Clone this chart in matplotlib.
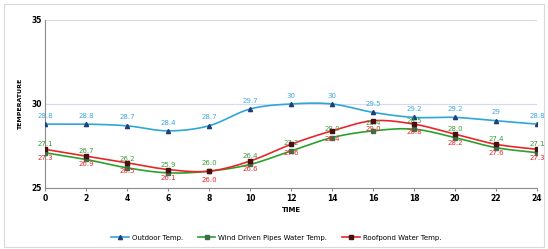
import numpy as np
import matplotlib
matplotlib.use("Agg")
import matplotlib.pyplot as plt
from matplotlib.patches import Rectangle

hours = [0, 2, 4, 6, 8, 10, 12, 14, 16, 18, 20, 22, 24]
outdoor = [28.8, 28.8, 28.7, 28.4, 28.7, 29.7, 30, 30, 29.5, 29.2, 29.2, 29, 28.8]
wind_pipes = [27.1, 26.7, 26.2, 25.9, 26.0, 26.4, 27.2, 28.0, 28.4, 28.5, 28.0, 27.4, 27.1]
roofpond = [27.3, 26.9, 26.5, 26.1, 26.0, 26.6, 27.6, 28.4, 29.0, 28.8, 28.2, 27.6, 27.3]
names = ["Outdoor Temp.", "Wind Driven Pipes Water Temp.", "Roofpond Water Temp."]


def smooth(x, y, n=20):
    """Catmull-Rom curve through the points, close to Excel's smoothed line."""
    x = np.asarray(x, float); y = np.asarray(y, float)
    px = np.concatenate([[2 * x[0] - x[1]], x, [2 * x[-1] - x[-2]]])
    py = np.concatenate([[2 * y[0] - y[1]], y, [2 * y[-1] - y[-2]]])
    t = np.linspace(0, 1, n, endpoint=False)[:, None]
    xs, ys = [], []
    for i in range(1, len(px) - 2):
        for p, out in ((px, xs), (py, ys)):
            p0, p1, p2, p3 = p[i - 1], p[i], p[i + 1], p[i + 2]
            c = 0.5 * ((2 * p1) + (-p0 + p2) * t + (2 * p0 - 5 * p1 + 4 * p2 - p3) * t ** 2
                       + (-p0 + 3 * p1 - 3 * p2 + p3) * t ** 3)
            out.append(c.ravel())
    return np.concatenate(xs + [[x[-1]]]), np.concatenate(ys + [[y[-1]]])


fig = plt.figure(figsize=(5.48, 2.49), dpi=100)
fig.patches.append(Rectangle((0.008, 0.01), 0.984, 0.975, transform=fig.transFigure,
                             fill=False, ec="#d9d9d9", lw=0.8))
ax = fig.add_axes([0.082, 0.245, 0.898, 0.675])

series = [(outdoor, "#2ea6d8", "#1f3f7a", "^", "#3fa9e0", 1),
          (wind_pipes, "#2ca02c", "#3a6f4a", "s", "#3c9c3c", 1),
          (roofpond, "#e8262a", "#4a0f10", "s", "#e8262a", -1)]
for (vals, lc, mc, mk, tc, side), name in zip(series, names):
    sx, sy = smooth(hours, vals)
    ax.plot(sx, sy, color=lc, lw=1.2, zorder=2)
    ax.plot(hours, vals, ls="none", marker=mk, ms=3, color=mc, zorder=3)
    ax.plot([], [], color=lc, lw=1.2, marker=mk, ms=3, mfc=mc, mec=mc, label=name)
    for h, v in zip(hours, vals):
        txt = f"{v:g}" if name == names[0] else f"{v:.1f}"
        ax.annotate(txt, (h, v), xytext=(0, 6 * side), textcoords="offset points",
                    ha="center", va="center", fontsize=5, color=tc)

ax.set_xlim(0, 24)
ax.set_ylim(25, 35)
ax.set_xticks(hours)
ax.set_yticks([25, 30, 35])
ax.grid(axis="y", color="#d8d8ee", lw=0.8)
ax.set_axisbelow(True)
for s in ["top", "right"]:
    ax.spines[s].set_visible(False)
ax.spines["left"].set_color("#8c8c8c")
ax.spines["bottom"].set_color("#8c8c8c")
ax.tick_params(axis="both", labelsize=5.5, length=2.5, color="#8c8c8c", pad=2)
ax.tick_params(axis="y", length=0)
for lab in ax.get_xticklabels() + ax.get_yticklabels():
    lab.set_fontweight("bold")
ax.set_xlabel("TIME", fontsize=5, fontweight="bold", labelpad=3)
ax.set_ylabel("TEMPERATURE", fontsize=4.5, fontweight="bold", labelpad=6)
ax.legend(loc="upper center", bbox_to_anchor=(0.47, -0.24), ncol=3, frameon=False,
          fontsize=5, handlelength=2.5, handletextpad=0.4, columnspacing=2.2)

fig.savefig("out.png", dpi=100)
